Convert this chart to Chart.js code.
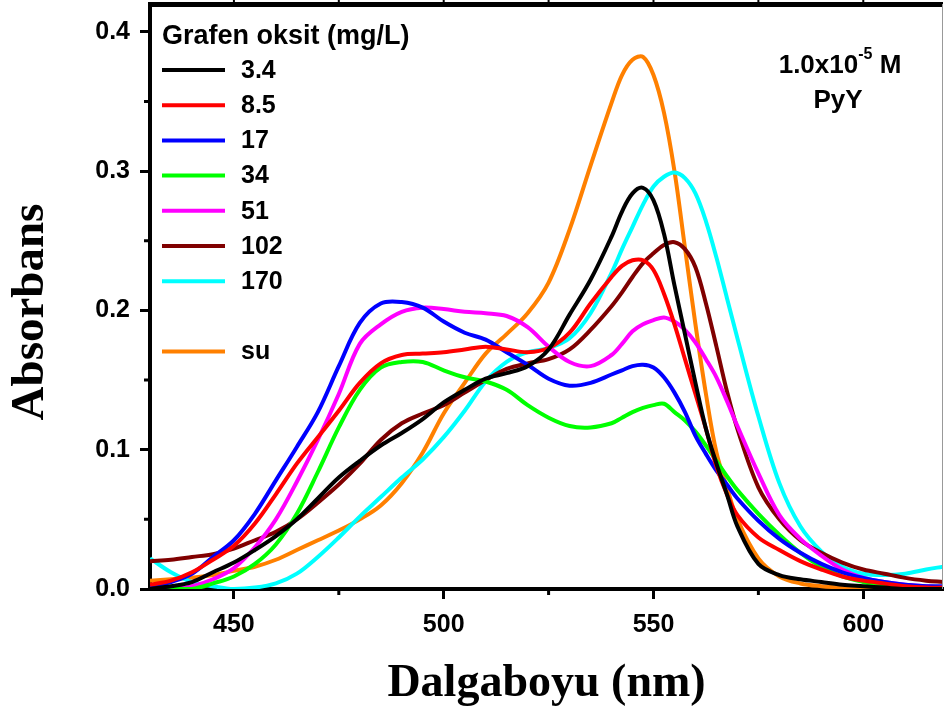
<!DOCTYPE html>
<html>
<head>
<meta charset="utf-8">
<script src="https://cdn.jsdelivr.net/npm/chart.js@4.4.1/dist/chart.umd.min.js"></script>
<style>
  html, body { margin: 0; padding: 0; background: #fff; }
  #wrap { width: 944px; height: 713px; }
  canvas { display: block; }
</style>
</head>
<body>
<div id="wrap"><canvas id="spectra" width="944" height="713"></canvas></div>
<script>
// wavelength grid (nm), finer around the main band
const wavelengths = [430, 435, 440, 445, 450, 455, 460, 465, 470, 475, 480, 485, 490, 495, 500, 505, 510, 515, 520, 525, 530, 535, 540, 542.5, 545, 547.5, 550, 552.5, 555, 557.5, 560, 562.5, 565, 567.5, 570, 575, 580, 585, 590, 595, 600, 605, 610, 615, 619];

// absorbance per graphene oxide dose (mg/L) and in water
const abs3_4 = [0.000, 0.002, 0.005, 0.012, 0.019, 0.028, 0.038, 0.050, 0.065, 0.080, 0.092, 0.103, 0.112, 0.122, 0.134, 0.143, 0.151, 0.155, 0.160, 0.172, 0.197, 0.222, 0.253, 0.271, 0.284, 0.288, 0.279, 0.255, 0.218, 0.183, 0.148, 0.115, 0.090, 0.068, 0.045, 0.018, 0.010, 0.007, 0.005, 0.003, 0.002, 0.001, 0.000, 0.000, 0.000];
const abs8_5 = [0.003, 0.006, 0.012, 0.021, 0.031, 0.047, 0.068, 0.090, 0.109, 0.128, 0.148, 0.162, 0.168, 0.169, 0.170, 0.172, 0.174, 0.172, 0.170, 0.173, 0.184, 0.205, 0.224, 0.232, 0.236, 0.236, 0.229, 0.212, 0.190, 0.165, 0.140, 0.115, 0.088, 0.068, 0.053, 0.037, 0.028, 0.020, 0.014, 0.009, 0.006, 0.004, 0.002, 0.001, 0.001];
const abs17 = [0.001, 0.005, 0.011, 0.023, 0.035, 0.054, 0.078, 0.102, 0.127, 0.160, 0.191, 0.205, 0.206, 0.202, 0.192, 0.184, 0.179, 0.170, 0.161, 0.151, 0.146, 0.148, 0.154, 0.157, 0.160, 0.161, 0.159, 0.152, 0.141, 0.127, 0.110, 0.097, 0.085, 0.075, 0.065, 0.049, 0.036, 0.026, 0.018, 0.012, 0.008, 0.005, 0.003, 0.002, 0.002];
const abs34 = [0.000, 0.000, 0.000, 0.004, 0.009, 0.018, 0.032, 0.054, 0.084, 0.116, 0.143, 0.159, 0.163, 0.163, 0.157, 0.152, 0.149, 0.143, 0.132, 0.123, 0.117, 0.116, 0.119, 0.123, 0.127, 0.130, 0.132, 0.133, 0.127, 0.121, 0.113, 0.103, 0.092, 0.081, 0.071, 0.054, 0.039, 0.026, 0.016, 0.009, 0.005, 0.002, 0.001, 0.000, 0.000];
const abs51 = [0.000, 0.000, 0.002, 0.007, 0.015, 0.030, 0.050, 0.077, 0.107, 0.140, 0.176, 0.190, 0.199, 0.202, 0.201, 0.199, 0.198, 0.196, 0.188, 0.174, 0.163, 0.160, 0.168, 0.176, 0.185, 0.190, 0.193, 0.195, 0.192, 0.186, 0.177, 0.165, 0.152, 0.135, 0.117, 0.083, 0.053, 0.036, 0.024, 0.014, 0.008, 0.005, 0.003, 0.002, 0.001];
const abs102 = [0.020, 0.021, 0.023, 0.025, 0.029, 0.035, 0.041, 0.050, 0.062, 0.075, 0.090, 0.107, 0.119, 0.126, 0.132, 0.141, 0.150, 0.158, 0.162, 0.165, 0.172, 0.186, 0.203, 0.213, 0.224, 0.234, 0.241, 0.247, 0.249, 0.244, 0.231, 0.205, 0.174, 0.142, 0.115, 0.073, 0.050, 0.035, 0.026, 0.019, 0.014, 0.011, 0.008, 0.006, 0.005];
const abs170 = [0.022, 0.012, 0.005, 0.002, 0.000, 0.001, 0.004, 0.011, 0.023, 0.037, 0.052, 0.066, 0.080, 0.093, 0.109, 0.128, 0.149, 0.163, 0.170, 0.173, 0.180, 0.198, 0.227, 0.244, 0.260, 0.276, 0.289, 0.296, 0.299, 0.295, 0.284, 0.264, 0.238, 0.209, 0.180, 0.124, 0.076, 0.045, 0.027, 0.016, 0.011, 0.010, 0.011, 0.014, 0.016];
const absWater = [0.006, 0.007, 0.008, 0.010, 0.013, 0.016, 0.021, 0.028, 0.035, 0.042, 0.050, 0.060, 0.076, 0.098, 0.126, 0.148, 0.169, 0.183, 0.198, 0.220, 0.258, 0.304, 0.349, 0.369, 0.380, 0.382, 0.369, 0.342, 0.300, 0.245, 0.190, 0.140, 0.098, 0.073, 0.050, 0.022, 0.009, 0.004, 0.002, 0.001, 0.000, 0.000, 0.000, 0.000, 0.000];

const seriesLabels = ['3.4', '8.5', '17', '34', '51', '102', '170', 'su'];
const seriesValues = [abs3_4, abs8_5, abs17, abs34, abs51, abs102, abs170, absWater];
const seriesColors = ['#000000', '#ff0000', '#0000ff', '#00ff00', '#ff00ff', '#800000', '#00ffff', '#ff8000'];

const xTicks = [450, 500, 550, 600];
const xMinorTicks = [475, 525, 575];
const yTicks = [0, 0.1, 0.2, 0.3, 0.4];
const yMinorTicks = [0.05, 0.15, 0.25, 0.35];

const SANS = "'Liberation Sans', Arial, sans-serif";
const SERIF = "'Liberation Serif', 'Times New Roman', serif";

const datasets = seriesLabels.map((label, i) => ({
  label: label,
  data: wavelengths.map((w, j) => ({ x: w, y: seriesValues[i][j] })),
  borderColor: seriesColors[i],
  backgroundColor: seriesColors[i],
  borderWidth: 4,
  pointRadius: 0,
  tension: 0.35,
  fill: false
}));

// minor ticks, top/right frame, y title, in-plot legend and sample note
const decorations = {
  id: 'decorations',
  afterDraw(chart) {
    const ctx = chart.ctx;
    const area = chart.chartArea;
    const xs = chart.scales.x;
    const ys = chart.scales.y;
    const topY = ys.getPixelForValue(ys.max);
    ctx.save();
    ctx.strokeStyle = '#000';
    ctx.lineWidth = 3;
    ctx.beginPath();
    xMinorTicks.forEach(v => {
      const px = xs.getPixelForValue(v);
      ctx.moveTo(px, area.bottom);
      ctx.lineTo(px, area.bottom + 6);
    });
    yMinorTicks.forEach(v => {
      const py = ys.getPixelForValue(v);
      ctx.moveTo(area.left, py);
      ctx.lineTo(area.left - 6, py);
    });
    ctx.stroke();

    // frame: heavy top edge with small outer ticks, thin right edge
    ctx.fillStyle = '#000';
    ctx.fillRect(area.left - 2, Math.max(topY, 4) - 2, area.right - area.left + 2, 5);
    xTicks.concat(xMinorTicks).forEach(v => {
      const px = xs.getPixelForValue(v);
      ctx.fillRect(px - 1, 0, 2, 4);
    });
    ctx.fillStyle = '#999';
    ctx.fillRect(area.right - 1, topY, 1, area.bottom - topY);

    // y axis title
    ctx.fillStyle = '#000';
    ctx.save();
    ctx.translate(31, 312);
    ctx.rotate(-Math.PI / 2);
    ctx.textAlign = 'center';
    ctx.textBaseline = 'middle';
    ctx.font = 'bold 47px ' + SERIF;
    ctx.fillText('Absorbans', 0, 0);
    ctx.restore();

    // legend
    ctx.textBaseline = 'middle';
    ctx.textAlign = 'left';
    ctx.font = 'bold 27px ' + SANS;
    ctx.fillText('Grafen oksit (mg/L)', 162, 37);
    chart.data.datasets.forEach((ds, i) => {
      const row = i < 7 ? i : i + 1;
      const y = 70 + row * 35.2;
      ctx.strokeStyle = ds.borderColor;
      ctx.lineWidth = 4;
      ctx.beginPath();
      ctx.moveTo(162, y);
      ctx.lineTo(225, y);
      ctx.stroke();
      ctx.font = 'bold 25px ' + SANS;
      ctx.fillText(ds.label, 241, y + 1);
    });

    // concentration and dye name
    const main = '1.0x10';
    const sup = '-5';
    const unit = ' M';
    ctx.font = 'bold 26px ' + SANS;
    const wMain = ctx.measureText(main).width;
    const wUnit = ctx.measureText(unit).width;
    ctx.font = 'bold 16px ' + SANS;
    const wSup = ctx.measureText(sup).width;
    const x0 = 840 - (wMain + wSup + wUnit) / 2;
    ctx.font = 'bold 26px ' + SANS;
    ctx.fillText(main, x0, 66);
    ctx.font = 'bold 16px ' + SANS;
    ctx.fillText(sup, x0 + wMain, 55);
    ctx.font = 'bold 26px ' + SANS;
    ctx.fillText(unit, x0 + wMain + wSup, 66);
    ctx.textAlign = 'center';
    ctx.fillText('PyY', 838, 101);
    ctx.restore();
  }
};

new Chart(document.getElementById('spectra'), {
  type: 'line',
  data: { datasets: datasets },
  options: {
    responsive: false,
    animation: false,
    layout: { padding: { top: 4, right: 1, left: 0, bottom: 0 } },
    plugins: { legend: { display: false }, tooltip: { enabled: false } },
    scales: {
      x: {
        type: 'linear',
        min: 430,
        max: 619,
        afterBuildTicks: s => { s.ticks = xTicks.map(v => ({ value: v })); },
        afterFit: s => { s.height = 124; s.paddingLeft = 0; s.paddingRight = 0; },
        border: { color: '#000', width: 4 },
        grid: { drawOnChartArea: false, tickLength: 10, tickWidth: 3, tickColor: '#000' },
        ticks: {
          color: '#000',
          padding: 11,
          maxRotation: 0,
          font: { family: SANS, size: 25, weight: 'bold' },
          callback: v => String(v)
        },
        title: {
          display: true,
          text: 'Dalgaboyu (nm)',
          color: '#000',
          padding: { top: 0, bottom: 6 },
          font: { family: SERIF, size: 46, weight: 'bold', lineHeight: 1 }
        }
      },
      y: {
        min: 0,
        max: 0.42,
        afterBuildTicks: s => { s.ticks = yTicks.map(v => ({ value: v })); },
        afterFit: s => { s.width = 150; s.paddingTop = 0; s.paddingBottom = 0; },
        border: { color: '#000', width: 4 },
        grid: { drawOnChartArea: false, tickLength: 10, tickWidth: 3, tickColor: '#000' },
        ticks: {
          color: '#000',
          padding: 10,
          font: { family: SANS, size: 25, weight: 'bold' },
          callback: v => v.toFixed(1)
        }
      }
    }
  },
  plugins: [decorations]
});
</script>
</body>
</html>
